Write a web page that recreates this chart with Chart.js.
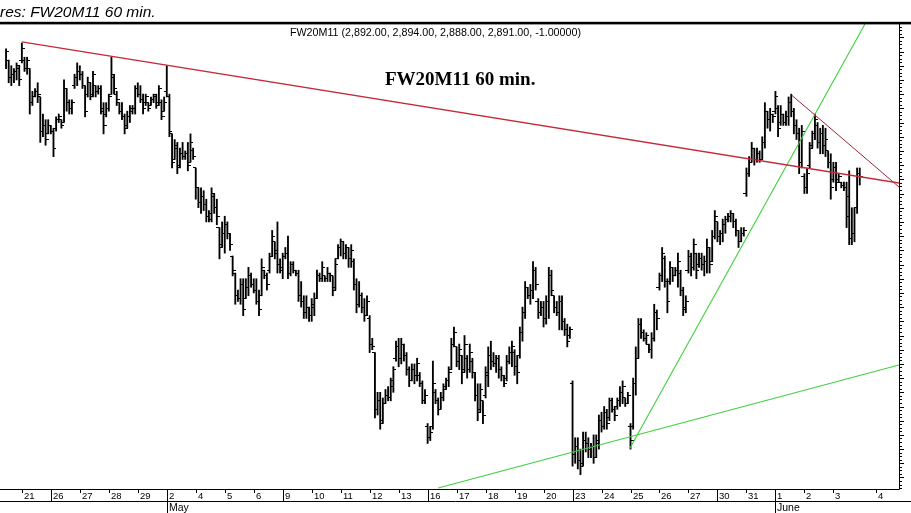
<!DOCTYPE html>
<html>
<head>
<meta charset="utf-8">
<script src="https://cdn.jsdelivr.net/npm/chart.js@4/dist/chart.umd.min.js"></script>
<style>
  html, body { margin: 0; padding: 0; background: #fff; overflow: hidden; }
  #wrap { position: relative; width: 911px; height: 513px; }
</style>
</head>
<body>
<div id="wrap"><canvas id="chart" width="911" height="513"></canvas></div>
<script>
const symbol = "FW20M11";
const windowTitle = "Futures: FW20M11 60 min.";
const chartTitle = "FW20M11 60 min.";

// 60 min bars, 11 per session, oldest first (first 6 = tail of Apr 20)
const opens = [
  2930,2932,2926,2927,2928,2929,
  2932,2932,2929,2929,2917,2919,2921,2919,2907,2909,2906, // 21
  2909,2907,2908,2911,2911,2910,2922,2917,2915,2923,2926, // 26
  2928,2927,2923,2920,2924,2920,2923,2921,2922,2914,2913, // 27
  2915,2920,2926,2920,2917,2914,2912,2909,2912,2914,2915, // 28
  2922,2920,2918,2917,2917,2916,2918,2919,2917,2917,2914, // 29
  2921,2919,2906,2897,2901,2895,2899,2898,2899,2896,2900, // May 2
  2894,2887,2882,2884,2881,2877,2876,2884,2880,2873,2867, // 4
  2871,2874,2871,2863,2857,2849,2848,2853,2848,2852,2856, // 5
  2853,2851,2847,2849,2858,2856,2858,2863,2868,2865,2860, // 6
  2858,2863,2864,2857,2860,2858,2857,2849,2847,2843,2845, // 9
  2842,2845,2848,2856,2855,2856,2855,2857,2856,2852,2862, // 10
  2866,2868,2864,2866,2862,2861,2853,2846,2849,2845,2842, // 11
  2841,2832,2829,2809,2812,2805,2811,2814,2813,2817,2827, // 12
  2831,2827,2832,2828,2823,2819,2823,2821,2821,2818,2812, // 13
  2803,2799,2803,2815,2812,2809,2813,2817,2819,2823,2832, // 16
  2831,2826,2828,2823,2827,2823,2826,2822,2814,2809,2812, // 17
  2814,2821,2828,2826,2825,2827,2823,2821,2820,2826,2829, // 18
  2829,2824,2828,2836,2843,2852,2849,2851,2858,2847,2843, // 19
  2845,2841,2847,2856,2849,2845,2843,2847,2840,2837,2835, // 20
  2818,2793,2796,2791,2790,2798,2797,2795,2796,2792,2797, // 23
  2805,2803,2808,2806,2812,2809,2810,2812,2815,2813,2811, // 24
  2803,2803,2818,2827,2839,2836,2834,2832,2830,2834,2843, // 25
  2852,2856,2862,2854,2854,2859,2856,2858,2857,2851,2845, // 26
  2858,2863,2859,2864,2860,2862,2860,2861,2866,2861,2870, // 27
  2875,2870,2871,2874,2876,2877,2878,2875,2872,2868,2871, // 30
  2885,2892,2896,2901,2897,2899,2897,2903,2914,2911,2913, // 31
  2914,2915,2910,2913,2910,2912,2917,2914,2909,2906,2896, // Jun 1
  2891,2887,2895,2902,2906,2909,2903,2906,2902,2900,2896, // 2
  2890,2894,2890,2889,2888,2887,2884,2869,2871,2880,2892  // 3
];
const highs = [
  2936,2932,2930,2929,2931,2930,
  2938,2933,2933,2929,2921,2922,2924,2919,2913,2911,2911,
  2909,2908,2912,2913,2911,2925,2922,2918,2918,2927,2931,
  2930,2928,2923,2926,2924,2928,2923,2923,2923,2917,2917,
  2920,2933,2927,2921,2917,2917,2913,2914,2916,2916,2923,
  2924,2923,2920,2920,2917,2919,2920,2920,2923,2918,2919,
  2930,2920,2906,2904,2903,2901,2903,2900,2903,2906,2901,
  2894,2887,2887,2886,2883,2879,2887,2885,2883,2873,2875,
  2877,2875,2871,2863,2857,2851,2855,2855,2855,2859,2857,
  2855,2855,2851,2862,2858,2857,2864,2872,2868,2875,2862,
  2864,2866,2870,2861,2861,2858,2858,2854,2849,2849,2845,
  2848,2850,2858,2857,2861,2856,2859,2857,2856,2862,2867,
  2869,2868,2867,2866,2867,2862,2855,2854,2850,2848,2849,
  2842,2834,2829,2815,2815,2813,2816,2817,2820,2824,2833,
  2834,2834,2832,2829,2824,2825,2825,2827,2822,2819,2816,
  2804,2803,2826,2816,2813,2815,2818,2820,2824,2834,2838,
  2831,2832,2828,2835,2828,2832,2827,2822,2818,2818,2812,
  2824,2831,2833,2829,2828,2828,2824,2821,2828,2831,2833,
  2830,2828,2838,2845,2854,2852,2853,2861,2859,2848,2847,
  2847,2849,2859,2858,2849,2847,2849,2849,2841,2839,2838,
  2819,2799,2799,2795,2801,2801,2799,2797,2800,2800,2807,
  2808,2810,2809,2813,2813,2810,2813,2817,2819,2813,2815,
  2804,2820,2831,2841,2841,2837,2836,2832,2836,2846,2844,
  2857,2866,2863,2855,2861,2859,2859,2864,2858,2852,2849,
  2865,2864,2869,2864,2864,2864,2863,2869,2866,2872,2879,
  2875,2872,2876,2877,2878,2879,2878,2876,2872,2873,2873,
  2894,2898,2903,2901,2901,2900,2905,2917,2914,2915,2913,
  2921,2916,2916,2913,2914,2919,2920,2915,2911,2908,2909,
  2892,2894,2903,2907,2913,2910,2908,2909,2908,2900,2899,
  2896,2896,2892,2889,2889,2889,2893,2880,2880,2894,2894
];
const lows = [
  2929,2924,2923,2924,2925,2923,
  2931,2928,2927,2913,2916,2919,2917,2903,2905,2902,2906,
  2906,2898,2907,2910,2908,2910,2914,2913,2913,2922,2923,
  2925,2922,2912,2919,2918,2919,2919,2920,2913,2906,2912,
  2914,2920,2920,2916,2913,2911,2906,2908,2910,2913,2913,
  2919,2917,2913,2916,2914,2916,2917,2915,2916,2911,2914,
  2919,2905,2894,2897,2892,2894,2897,2897,2893,2896,2897,
  2883,2880,2878,2879,2875,2875,2875,2878,2874,2862,2866,
  2864,2869,2865,2856,2846,2847,2846,2842,2848,2849,2852,
  2850,2846,2842,2849,2855,2851,2857,2863,2862,2857,2857,
  2855,2862,2855,2856,2857,2856,2847,2845,2841,2841,2840,
  2840,2842,2848,2854,2854,2854,2854,2854,2849,2851,2862,
  2863,2862,2862,2859,2859,2851,2843,2845,2843,2840,2842,
  2829,2830,2806,2807,2802,2804,2811,2812,2812,2815,2826,
  2824,2825,2826,2821,2817,2819,2818,2819,2817,2811,2811,
  2797,2798,2802,2811,2807,2809,2812,2816,2817,2823,2831,
  2824,2823,2818,2822,2820,2822,2820,2812,2805,2808,2804,
  2813,2817,2823,2824,2822,2820,2819,2817,2819,2825,2824,
  2821,2818,2827,2833,2841,2848,2846,2848,2851,2841,2842,
  2838,2839,2841,2849,2843,2842,2837,2837,2835,2831,2834,
  2789,2790,2788,2786,2789,2794,2792,2792,2790,2792,2795,
  2801,2802,2802,2805,2808,2805,2809,2810,2811,2810,2811,
  2795,2802,2814,2827,2834,2833,2832,2829,2827,2833,2837,
  2851,2854,2852,2843,2853,2854,2856,2852,2849,2842,2843,
  2857,2856,2858,2855,2859,2858,2856,2857,2857,2861,2869,
  2868,2867,2868,2871,2875,2875,2873,2870,2866,2868,2870,
  2884,2891,2896,2895,2896,2896,2897,2901,2908,2907,2910,
  2913,2905,2909,2909,2909,2909,2912,2906,2904,2892,2894,
  2885,2885,2894,2901,2904,2901,2899,2899,2898,2894,2883,
  2889,2886,2889,2887,2886,2873,2867,2867,2868,2878,2888
];
const closes = [
  2935,2926,2927,2928,2930,2925,
  2936,2929,2932,2917,2919,2921,2920,2907,2909,2904,2909,
  2907,2901,2911,2912,2909,2922,2917,2915,2917,2926,2928,
  2927,2923,2914,2924,2919,2927,2921,2922,2915,2909,2915,
  2919,2927,2922,2918,2914,2912,2908,2912,2915,2915,2922,
  2920,2918,2915,2919,2915,2918,2920,2916,2922,2912,2917,
  2919,2907,2896,2902,2894,2899,2898,2899,2895,2903,2898,
  2887,2882,2884,2881,2877,2878,2885,2880,2877,2866,2871,
  2874,2871,2867,2858,2849,2848,2853,2844,2852,2856,2853,
  2851,2847,2844,2859,2856,2853,2863,2870,2864,2860,2859,
  2863,2864,2857,2860,2858,2857,2849,2847,2843,2845,2842,
  2846,2848,2856,2855,2859,2855,2857,2856,2851,2860,2866,
  2868,2864,2866,2862,2865,2853,2846,2849,2845,2842,2847,
  2832,2831,2809,2812,2804,2811,2814,2813,2819,2823,2831,
  2827,2832,2828,2823,2819,2823,2821,2825,2818,2812,2814,
  2799,2801,2818,2812,2809,2813,2816,2819,2822,2832,2836,
  2826,2830,2822,2832,2823,2829,2822,2814,2808,2816,2807,
  2822,2828,2826,2825,2827,2823,2821,2818,2826,2829,2831,
  2824,2822,2836,2843,2852,2849,2851,2858,2853,2843,2845,
  2841,2847,2856,2851,2845,2843,2847,2840,2837,2833,2837,
  2793,2796,2791,2789,2798,2797,2795,2796,2792,2798,2805,
  2803,2808,2804,2812,2809,2807,2812,2815,2817,2811,2814,
  2798,2818,2827,2839,2836,2834,2835,2830,2834,2843,2841,
  2856,2864,2854,2847,2859,2856,2858,2861,2851,2844,2847,
  2863,2859,2867,2858,2862,2860,2861,2866,2860,2870,2877,
  2870,2871,2874,2876,2877,2878,2875,2872,2868,2871,2872,
  2892,2896,2901,2897,2899,2897,2903,2914,2911,2913,2912,
  2919,2908,2913,2910,2912,2917,2914,2909,2906,2896,2907,
  2887,2892,2901,2906,2911,2903,2906,2902,2904,2896,2887,
  2894,2889,2891,2888,2887,2877,2869,2871,2880,2891,2891
];

// session labels and the bar index where each one starts
const dayLabels = ["21","26","27","28","29","2","4","5","6","9","10","11","12","13","16",
                   "17","18","19","20","23","24","25","26","27","30","31","1","2","3","4"];
const dayStarts = [6,17,28,39,50,61,72,83,94,105,116,127,138,149,160,
                   171,182,193,204,215,226,237,248,259,270,281,292,303,314,330];
const weekStarts = [17,105,160,215,270];
const monthLabels = ["May","June"];
const monthStarts = [61,292];

// trend lines: [bar index, price]
const resistLong = [[6, 2938.4], [338.9, 2888.7]];
const resistShort = [[298.1, 2919.7], [338.9, 2887.3]];
const supportSteep = [[236.6, 2795.0], [326, 2944.7]];
const supportFlat = [[164, 2781.3], [338.9, 2824.6]];

const yMin = 2780.95, yMax = 2944.7;

function tickImage(left) {
  const c = document.createElement("canvas");
  c.width = 6; c.height = 1;
  const g = c.getContext("2d");
  g.fillStyle = "#000";
  g.fillRect(left ? 0 : 3, 0, 3, 1);
  return c;
}

function lineSet(pts, color, width) {
  return {
    type: "line",
    data: pts.map(p => ({ x: p[0], y: p[1] })),
    borderColor: color,
    borderWidth: width,
    pointRadius: 0,
    fill: false,
    tension: 0,
    order: 0
  };
}

const last = closes.length - 1;
const fmt = v => v.toLocaleString("en-US", { minimumFractionDigits: 2, maximumFractionDigits: 2 });
const infoText = `${symbol} (${fmt(opens[last])}, ${fmt(highs[last])}, ${fmt(lows[last])}, ${fmt(closes[last])}, ${(closes[last] - opens[last]).toFixed(5)})`;

const decor = {
  id: "decor",
  afterDraw(chart) {
    const { ctx, chartArea: a, scales: { x, y } } = chart;
    const W = chart.width;
    ctx.save();
    ctx.fillStyle = "#000";
    ctx.strokeStyle = "#000";

    // heading
    ctx.font = 'italic 15.5px "Liberation Sans", Arial, sans-serif';
    ctx.textBaseline = "alphabetic";
    ctx.textAlign = "left";
    ctx.fillText(windowTitle, -ctx.measureText("Futu").width, 16.5);
    ctx.fillRect(0, 21.8, W, 2.6);

    ctx.font = '10.7px "Liberation Sans", Arial, sans-serif';
    ctx.fillText(infoText, 290, 35.5);

    ctx.font = 'bold 19px "Liberation Serif", "Times New Roman", serif';
    ctx.fillText(chartTitle, 385, 85);

    // axes frame
    ctx.lineWidth = 1;
    ctx.beginPath();
    ctx.moveTo(0, a.bottom + 0.5); ctx.lineTo(a.right + 0.5, a.bottom + 0.5);
    ctx.moveTo(0, a.bottom + 12.5); ctx.lineTo(W, a.bottom + 12.5);
    ctx.moveTo(a.right + 0.5, a.top); ctx.lineTo(a.right + 0.5, a.bottom + 0.5);
    ctx.stroke();

    // price axis ticks
    ctx.beginPath();
    for (let v = Math.ceil(yMin / 1.25) * 1.25; v <= yMax; v += 1.25) {
      const py = Math.round(y.getPixelForValue(v)) + 0.5;
      const len = (Math.abs(v % 5) < 0.01) ? 4.5 : 2.5;
      ctx.moveTo(a.right + 0.5, py);
      ctx.lineTo(a.right + 0.5 + len, py);
    }
    ctx.stroke();

    // date axis
    ctx.font = '9.5px "Liberation Sans", Arial, sans-serif';
    ctx.beginPath();
    dayStarts.forEach((idx, k) => {
      const px = Math.round(x.getPixelForValue(idx)) + 0.5;
      let end = a.bottom + 4;
      if (weekStarts.includes(idx)) end = a.bottom + 12;
      if (monthStarts.includes(idx)) end = chart.height;
      ctx.moveTo(px, a.bottom);
      ctx.lineTo(px, end);
      ctx.fillText(dayLabels[k], px + 1.5, a.bottom + 10);
    });
    ctx.stroke();

    ctx.font = '10.5px "Liberation Sans", Arial, sans-serif';
    monthStarts.forEach((idx, k) => {
      const px = Math.round(x.getPixelForValue(idx)) + 0.5;
      ctx.fillText(monthLabels[k], px + 1.5, a.bottom + 22);
    });
    ctx.restore();
  }
};

new Chart(document.getElementById("chart"), {
  type: "bar",
  data: {
    datasets: [
      lineSet(resistLong, "#c42a3a", 1.3),
      lineSet(resistShort, "#9e2436", 1),
      lineSet(supportSteep, "#3fcf3f", 1.1),
      lineSet(supportFlat, "#3fcf3f", 1.1),
      {
        type: "scatter",
        data: opens.map((o, i) => ({ x: i, y: o })),
        pointStyle: tickImage(true),
        pointRadius: 3,
        order: 1
      },
      {
        type: "scatter",
        data: closes.map((c, i) => ({ x: i, y: c })),
        pointStyle: tickImage(false),
        pointRadius: 3,
        order: 1
      },
      {
        type: "bar",
        data: highs.map((h, i) => ({ x: i, y: [lows[i], h] })),
        backgroundColor: "#000",
        borderWidth: 0,
        barThickness: 1.2,
        order: 2
      }
    ]
  },
  options: {
    responsive: false,
    animation: false,
    events: [],
    layout: { padding: { top: 24, right: 12, bottom: 24, left: 0 } },
    plugins: { legend: { display: false }, tooltip: { enabled: false } },
    scales: {
      x: { type: "linear", min: -0.4, max: 338.9, offset: false, display: false },
      y: { type: "linear", min: yMin, max: yMax, display: false }
    }
  },
  plugins: [decor]
});
</script>
</body>
</html>
